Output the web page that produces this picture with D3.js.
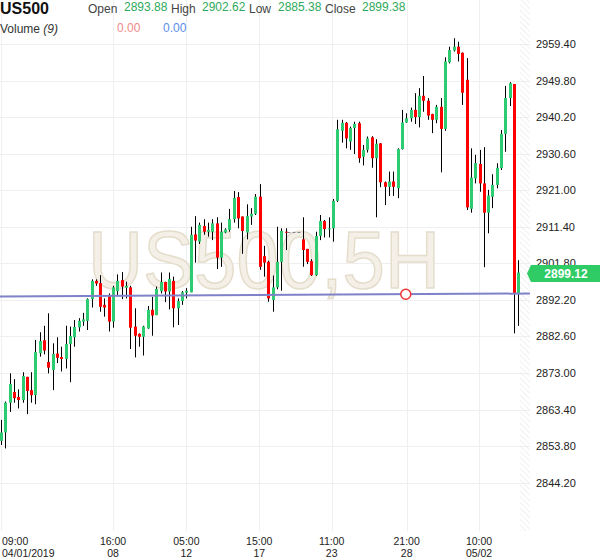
<!DOCTYPE html>
<html>
<head>
<meta charset="utf-8">
<script src="https://cdn.jsdelivr.net/npm/d3@7/dist/d3.min.js"></script>
<style>
  body { margin: 0; background: #fff; }
  svg { display: block; font-family: "Liberation Sans", Arial, sans-serif; }
</style>
</head>
<body>
<div id="chart"></div>
<script>
// 5H candles, US500. null = no trading (holiday gap)
const opens = [2855.2,2857.4,2865.2,2868.0,2866.7,2865.9,2872.0,2868.5,2867.2,2878.2,
  2881.6,2875.9,2873.8,2878.1,2877.2,2876.7,2880.6,2882.4,2885.0,2886.5,
  2886.7,2892.4,2897.2,2896.6,2890.9,2893.5,2886.5,2894.5,2897.4,2895.4,
  2895.5,2885.2,2883.3,2882.5,2884.7,2889.6,2888.2,2894.5,2896.9,2894.4,
  2897.2,2890.0,2891.9,2894.1,2894.2,2909.4,2907.5,2911.6,2910.1,2910.1,
  2912.3,2903.3,2909.9,2910.6,2913.4,2919.2,2914.1,2909.9,2914.1,2914.8,
  2919.3,2903.7,2902.2,2892.2,2895.5,2902.2,2910.1,null,null,null,
  2908.1,2905.6,2902.4,2898.7,2909.0,2912.9,2910.8,2911.0,2918.2,2936.6,
  2938.7,2933.8,2937.3,2938.6,2929.8,2931.6,2934.9,2929.4,2933.3,2923.1,
  2921.9,2923.3,2921.5,2931.8,2938.8,2939.9,2942.1,2940.2,2945.8,2944.5,
  2941.0,2939.5,2942.9,2937.1,2954.6,2957.7,2958.7,2957.1,2950.0,2916.1,
  2924.1,2927.9,2922.8,2915.1,2919.3,2922.4,2926.8,2935.8,2945.2,2948.9,
  2893.88];
const highs = [2860.7,2865.5,2872.9,2871.4,2868.7,2873.2,2872.0,2873.2,2881.7,2883.7,
  2885.4,2888.7,2880.8,2882.4,2879.9,2885.4,2885.2,2886.9,2887.4,2888.8,
  2892.6,2897.6,2897.6,2898.7,2892.6,2893.9,2895.9,2898.9,2899.5,2897.0,
  2895.9,2890.0,2883.4,2885.4,2890.6,2893.0,2895.7,2899.4,2897.0,2899.4,
  2898.3,2892.6,2894.5,2895.3,2911.4,2914.2,2912.5,2913.4,2912.5,2913.4,
  2913.9,2912.5,2911.0,2916.1,2920.8,2920.5,2914.1,2917.3,2916.3,2920.0,
  2922.6,2906.4,2902.5,2898.6,2911.4,2911.0,2911.0,null,null,null,
  2913.9,2905.6,2902.9,2910.1,2914.5,2913.2,2913.9,2918.7,2939.5,2939.5,
  2938.9,2937.7,2939.0,2939.0,2932.9,2935.1,2935.2,2934.4,2933.4,2923.3,
  2925.9,2925.9,2932.0,2942.1,2941.2,2942.7,2946.5,2947.8,2951.0,2945.2,
  2941.1,2943.4,2945.2,2955.9,2958.7,2960.9,2960.0,2957.2,2955.7,2932.0,
  2930.3,2931.6,2932.3,2921.1,2925.2,2928.1,2936.8,2948.4,2949.4,2948.9,
  2902.62];
const lows = [2854.1,2853.2,2862.8,2865.2,2863.7,2865.2,2862.2,2865.2,2864.8,2877.3,
  2877.9,2872.9,2868.5,2875.6,2873.4,2874.2,2870.6,2879.9,2883.9,2885.4,
  2884.3,2890.2,2895.9,2889.1,2887.8,2883.9,2884.9,2893.5,2892.4,2892.6,
  2879.3,2877.1,2879.9,2877.6,2884.6,2882.8,2888.2,2893.9,2891.6,2889.7,
  2885.0,2885.6,2890.9,2892.6,2894.2,2902.0,2906.9,2909.3,2908.8,2907.9,
  2900.3,2900.9,2909.7,2910.1,2912.5,2911.0,2904.3,2908.1,2911.9,2914.5,
  2900.1,2898.3,2891.7,2889.1,2895.0,2894.6,2905.3,null,null,null,
  2900.9,2901.6,2898.5,2898.5,2907.9,2908.6,2908.6,2907.5,2917.9,2933.5,
  2932.0,2931.6,2930.5,2928.2,2927.5,2930.9,2926.9,2913.9,2921.8,2917.1,
  2919.5,2919.5,2918.9,2931.7,2938.7,2939.0,2938.4,2937.5,2941.6,2939.5,
  2936.0,2938.6,2925.7,2936.6,2954.3,2957.4,2954.8,2943.4,2915.8,2915.1,
  2922.8,2920.6,2900.8,2909.7,2916.3,2921.5,2926.3,2931.1,2943.1,2883.4,
  2885.38];
const closes = [2857.4,2865.2,2870.1,2866.4,2865.9,2872.2,2868.3,2867.2,2878.5,2881.4,
  2878.9,2874.4,2878.0,2877.0,2876.7,2880.6,2882.7,2885.1,2886.7,2887.1,
  2892.4,2897.2,2896.5,2890.4,2890.2,2886.5,2895.5,2897.2,2895.7,2895.9,
  2884.9,2882.8,2882.5,2885.2,2889.6,2888.1,2895.1,2896.9,2894.4,2897.7,
  2890.0,2891.9,2894.2,2894.6,2909.3,2907.8,2911.9,2910.1,2910.6,2912.3,
  2903.3,2910.1,2910.7,2913.4,2919.0,2913.6,2910.3,2914.2,2914.8,2919.3,
  2900.9,2902.0,2892.6,2895.5,2902.2,2910.3,2909.9,null,null,null,
  2905.3,2902.2,2898.7,2909.0,2912.9,2910.8,2911.0,2918.2,2937.0,2938.7,
  2934.6,2937.3,2938.4,2929.4,2931.6,2934.6,2929.4,2933.2,2923.1,2921.9,
  2923.3,2921.9,2931.8,2938.8,2939.9,2942.1,2940.2,2945.8,2944.5,2940.6,
  2939.5,2942.9,2937.1,2954.8,2957.8,2958.7,2956.8,2946.6,2916.5,2924.3,
  2928.1,2922.8,2915.1,2919.6,2922.4,2926.9,2935.8,2945.2,2949.1,2893.9,
  2899.38];

const yTicks = [2844.2,2853.8,2863.4,2873.0,2882.6,2892.2,2901.8,2911.4,2921.0,2930.6,2940.2,2949.8,2959.4];
const xTickIdx = [0, 26, 43, 59.9, 76.7, 94.1, 110.9];
const xTickTime = ["09:00","16:00","05:00","15:00","11:00","21:00","10:00"];
const xTickDate = ["04/01/2019","08","12","17","23","28","05/02"];

// drawn trend line and its marker
const trendIdx = [-0.3, 122.7];
const trendVal = [2893.1, 2893.88];
const markerIdx = 93.9;
const lastPrice = 2899.12;

const W = 600, H = 558;
const plotRight = 520, hatchRight = 530, plotBottom = 531;
const green = "#2ecc71", red = "#ff0000";

const svg = d3.select("#chart").append("svg")
  .attr("width", W).attr("height", H);

const x = d3.scaleLinear().domain([0, opens.length - 1]).range([1, 518.3]);
const y = d3.scaleLinear().domain([2844.2, 2959.4]).range([482.7, 44]);

// hatch pattern for the right margin
const defs = svg.append("defs");
const pat = defs.append("pattern")
  .attr("id", "hatch").attr("patternUnits", "userSpaceOnUse")
  .attr("width", 4).attr("height", 4)
  .attr("patternTransform", "rotate(-45)");
pat.append("line").attr("x1", 0).attr("y1", 0).attr("x2", 0).attr("y2", 4)
  .attr("stroke", "#e6e6e6").attr("stroke-width", 1.2);

// grid
svg.append("g").selectAll("line").data(yTicks).join("line")
  .attr("x1", 0).attr("x2", hatchRight)
  .attr("y1", d => Math.round(y(d)) + 0.5).attr("y2", d => Math.round(y(d)) + 0.5)
  .attr("stroke", "#efefef");
svg.append("g").selectAll("line").data(xTickIdx).join("line")
  .attr("x1", d => Math.round(x(d)) + 0.5).attr("x2", d => Math.round(x(d)) + 0.5)
  .attr("y1", 0).attr("y2", plotBottom)
  .attr("stroke", "#efefef");

svg.append("rect").attr("x", plotRight).attr("y", 0)
  .attr("width", hatchRight - plotRight).attr("height", plotBottom)
  .attr("fill", "url(#hatch)");

// watermark
svg.append("text")
  .attr("x", 88).attr("y", 288)
  .attr("font-size", 81)
  .attr("textLength", 352).attr("lengthAdjust", "spacingAndGlyphs")
  .attr("fill", "#f4f0e7").attr("stroke", "#e4ddcc").attr("stroke-width", 1.5)
  .text("US500,5H");

// candles
const candles = d3.range(opens.length).filter(i => opens[i] !== null);
const cg = svg.append("g");
cg.selectAll("line.wick").data(candles).join("line")
  .attr("class", "wick")
  .attr("x1", i => Math.round(x(i)) + 0.5).attr("x2", i => Math.round(x(i)) + 0.5)
  .attr("y1", i => y(highs[i])).attr("y2", i => y(lows[i]))
  .attr("stroke", "#000").attr("stroke-width", 1);
cg.selectAll("rect").data(candles).join("rect")
  .attr("x", i => Math.round(x(i)) - 1)
  .attr("width", 3)
  .attr("y", i => y(Math.max(opens[i], closes[i])))
  .attr("height", i => Math.max(1, Math.abs(y(opens[i]) - y(closes[i]))))
  .attr("fill", i => closes[i] >= opens[i] ? green : red);

// dashed line across the gap
const gapStart = opens.indexOf(null) - 1;
const gapEnd = opens.findIndex((d, i) => i > gapStart + 1 && d !== null);
svg.append("line")
  .attr("x1", x(gapStart) + 2).attr("x2", x(gapEnd) - 2)
  .attr("y1", y(closes[gapStart])).attr("y2", y(closes[gapStart]))
  .attr("stroke", "#888").attr("stroke-dasharray", "3,2");

// trend line
svg.append("line")
  .attr("x1", x(trendIdx[0])).attr("x2", x(trendIdx[1]))
  .attr("y1", y(trendVal[0])).attr("y2", y(trendVal[1]))
  .attr("stroke", "#7f82c8").attr("stroke-width", 2);
const tv = d3.scaleLinear().domain(trendIdx).range(trendVal);
svg.append("circle")
  .attr("cx", x(markerIdx)).attr("cy", y(tv(markerIdx))).attr("r", 5)
  .attr("fill", "#fff").attr("stroke", "#e33").attr("stroke-width", 1.5);

// y axis labels
svg.append("g").selectAll("text").data(yTicks).join("text")
  .attr("x", 536).attr("y", d => y(d) + 4)
  .attr("font-size", 11).attr("fill", "#222")
  .text(d => d.toFixed(2));

// last price tag
const py = y(lastPrice);
svg.append("path")
  .attr("d", `M527,${py} L531,${py - 8.5} L600,${py - 8.5} L600,${py + 8.5} L531,${py + 8.5} Z`)
  .attr("fill", "#2fcc66");
svg.append("text")
  .attr("x", 566).attr("y", py + 4.5).attr("text-anchor", "middle")
  .attr("font-size", 12).attr("font-weight", "bold").attr("fill", "#fff")
  .text(lastPrice.toFixed(2));

// x axis labels (two lines each)
const xl = svg.append("g").attr("font-size", 10.5).attr("fill", "#222");
xTickIdx.forEach((d, k) => {
  const first = k === 0;
  const tx = first ? 2 : x(d);
  const anchor = first ? "start" : "middle";
  xl.append("text").attr("x", tx).attr("y", 545).attr("text-anchor", anchor).text(xTickTime[k]);
  xl.append("text").attr("x", tx).attr("y", 556.5).attr("text-anchor", anchor).text(xTickDate[k]);
});

// header
const last = opens.length - 1;
const hdr = svg.append("g");
hdr.append("text").attr("x", 0).attr("y", 14)
  .attr("font-size", 16).attr("font-weight", "bold").attr("fill", "#111").text("US500");
const fields = [
  ["Open", 88, 124, opens[last]],
  ["High", 171, 202, highs[last]],
  ["Low", 249, 278, lows[last]],
  ["Close", 325, 362, closes[last]]
];
fields.forEach(f => {
  hdr.append("text").attr("x", f[1]).attr("y", 13).attr("font-size", 12)
    .attr("fill", "#444").text(f[0]);
  hdr.append("text").attr("x", f[2]).attr("y", 11).attr("font-size", 12)
    .attr("fill", "#2eaa5c").text(f[3].toFixed(2));
});
const vol = hdr.append("text").attr("x", 0).attr("y", 33).attr("font-size", 12).attr("fill", "#333");
vol.append("tspan").text("Volume ");
vol.append("tspan").attr("font-style", "italic").text("(9)");
hdr.append("text").attr("x", 117).attr("y", 32).attr("font-size", 12)
  .attr("fill", "#f08a8a").text((0).toFixed(2));
hdr.append("text").attr("x", 163).attr("y", 32).attr("font-size", 12)
  .attr("fill", "#5b8de8").text((0).toFixed(2));
</script>
</body>
</html>
